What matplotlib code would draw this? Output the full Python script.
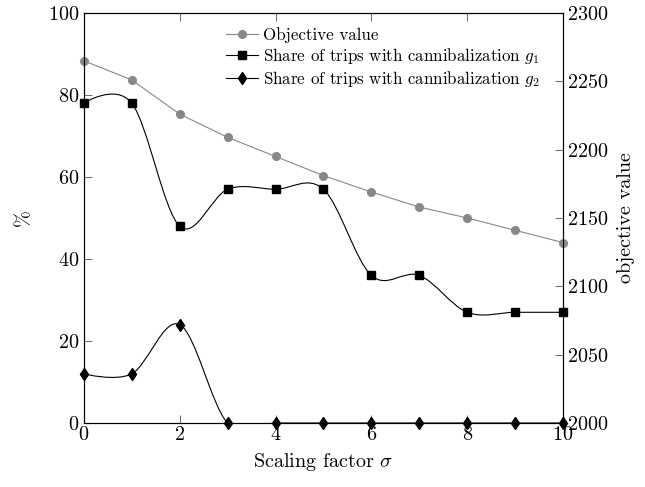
import matplotlib
matplotlib.use("Agg")
import matplotlib.pyplot as plt
from matplotlib.path import Path
from matplotlib.patches import PathPatch
from matplotlib.lines import Line2D

plt.rcParams['font.family'] = 'serif'
plt.rcParams['font.serif'] = ['cmr10', 'DejaVu Serif']
plt.rcParams['mathtext.fontset'] = 'cm'
plt.rcParams['axes.formatter.use_mathtext'] = True

# data
sigma = [0, 1, 2, 3, 4, 5, 6, 7, 8, 9, 10]
objective = [2265, 2251, 2226, 2209, 2195, 2181, 2169, 2158, 2150, 2141, 2132]
share_g1 = [78, 78, 48, 57, 57, 57, 36, 36, 27, 27, 27]
share_g2 = [12, 12, 24, 0, 0, 0, 0, 0, 0, 0, 0]

GRAY = '#888888'


def smooth_path(x, y, tension=0.5):
    # pgf style "smooth" curve through the points
    k = tension / 3.0
    n = len(x)
    verts = [(x[0], y[0])]
    codes = [Path.MOVETO]
    for i in range(n - 1):
        if i > 0:
            c1 = (x[i] + k * (x[i + 1] - x[i - 1]), y[i] + k * (y[i + 1] - y[i - 1]))
        else:
            c1 = (x[i], y[i])
        if i + 1 < n - 1:
            c2 = (x[i + 1] - k * (x[i + 2] - x[i]), y[i + 1] - k * (y[i + 2] - y[i]))
        else:
            c2 = (x[i + 1], y[i + 1])
        verts += [c1, c2, (x[i + 1], y[i + 1])]
        codes += [Path.CURVE4] * 3
    return Path(verts, codes)


fig = plt.figure(figsize=(6.45, 4.87), dpi=100)
ax1 = fig.add_axes([0.130, 0.1314, 0.743, 0.842])
ax2 = ax1.twinx()

for xs, ys in [(sigma, share_g1), (sigma, share_g2)]:
    ax1.add_patch(PathPatch(smooth_path(xs, ys), fill=False, color='black', lw=0.8, zorder=3))
ax1.plot(sigma, share_g1, ls='none', marker='s', ms=6.3, color='black', zorder=4, clip_on=False)
ax1.plot(sigma, share_g2, ls='none', marker='d', ms=6, color='black', zorder=4, clip_on=False)

ax2.plot(sigma, objective, color=GRAY, lw=0.8, marker='o', ms=5.5, clip_on=False)

ax1.set_xlim(0, 10)
ax1.set_ylim(0, 100)
ax2.set_ylim(2000, 2300)
ax1.set_xticks([0, 2, 4, 6, 8, 10])
ax1.set_yticks([0, 20, 40, 60, 80, 100])
ax2.set_yticks([2000, 2050, 2100, 2150, 2200, 2250, 2300])

ax1.tick_params(axis='x', direction='in', top=True, length=6, width=0.6, color='#555555',
                labelsize=14.5, pad=2)
ax1.tick_params(axis='y', direction='in', length=6, width=0.6, color='#555555',
                labelsize=14.5, pad=3)
ax2.tick_params(axis='y', direction='in', length=6, width=0.6, color='#555555',
                labelsize=14.5, pad=3)
for ax in (ax1, ax2):
    for sp in ax.spines.values():
        sp.set_linewidth(0.8)

ax1.set_xlabel(r'Scaling factor $\sigma$', fontsize=14.5, labelpad=5)
ax1.set_ylabel(r'%', fontsize=14.5, labelpad=11)
ax2.set_ylabel('objective value', fontsize=14.5, labelpad=6)

handles = [
    Line2D([], [], color=GRAY, lw=0.8, marker='o', ms=5.5),
    Line2D([], [], color='black', lw=0.8, marker='s', ms=6.3),
    Line2D([], [], color='black', lw=0.8, marker='d', ms=6),
]
labels = ['Objective value',
          r'Share of trips with cannibalization $g_1$',
          r'Share of trips with cannibalization $g_2$']
ax2.legend(handles, labels, loc='upper left', bbox_to_anchor=(0.296, 0.965),
           frameon=False, fontsize=12.2, handlelength=1.9, handletextpad=0.3,
           borderpad=0, borderaxespad=0, labelspacing=0.18)

fig.savefig('out.png', dpi=100)
